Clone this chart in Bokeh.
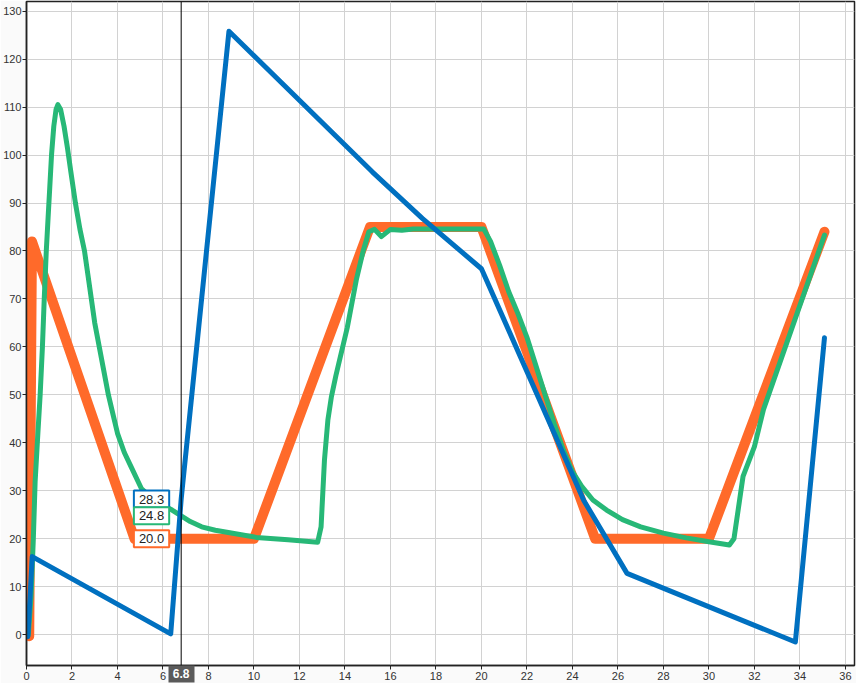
from bokeh.plotting import figure
from bokeh.models import Range1d, FixedTicker, Span, Label, LinearAxis
from bokeh.embed import file_html
from bokeh.resources import INLINE

# ---- data ----
setpoint_x = [0.12, 0.24, 4.75, 10.0, 15.1, 20.0, 25.0, 30.0, 35.08]
setpoint_y = [-0.3, 82.0, 20.0, 20.0, 85.0, 85.0, 20.0, 20.0, 84.0]

process_x = [0.08, 0.2, 0.3, 0.38, 0.5, 0.6, 0.7, 0.78, 0.87, 0.95, 1.02, 1.1, 1.2, 1.3,
             1.38, 1.5, 1.65, 1.8, 1.95, 2.15, 2.35, 2.55, 2.7, 2.85, 3.0, 3.2, 3.4, 3.6,
             3.8, 4.0, 4.3, 4.6, 5.05, 5.5, 6.0, 6.4, 6.8, 7.2, 7.7, 8.3, 9.0, 10.1,
             11.5, 12.8, 12.95, 13.1, 13.25, 13.4, 13.6, 13.8, 14.1, 14.5, 14.8, 15.05,
             15.3, 15.6, 16.0, 16.5, 17.0, 20.1, 20.4, 20.8, 21.2, 21.6, 22.0, 22.4,
             22.8, 23.2, 23.6, 24.0, 24.4, 24.9, 25.5, 26.2, 27.0, 28.0, 29.0, 30.0,
             30.9, 31.1, 31.5, 32.0, 32.4, 35.08]
process_y = [0.0, 8.0, 20.0, 32.0, 42.0, 50.0, 60.0, 70.0, 80.0, 87.0, 93.0, 100.0, 106.0,
             109.5, 110.5, 109.5, 106.0, 101.5, 96.5, 90.0, 84.5, 80.0, 75.0, 70.0, 65.0,
             60.0, 55.0, 50.0, 46.0, 42.0, 38.0, 35.0, 30.5, 28.5, 27.0, 26.0, 24.8, 23.6,
             22.5, 21.8, 21.2, 20.3, 19.8, 19.3, 22.5, 36.5, 44.8, 49.5, 54.0, 58.0, 64.0,
             74.0, 80.0, 84.0, 84.5, 83.0, 84.5, 84.3, 84.6, 84.6, 82.0, 77.0, 71.5, 67.0,
             62.0, 56.0, 50.0, 44.0, 38.5, 34.0, 31.0, 28.1, 26.0, 24.0, 22.5, 21.2, 20.2,
             19.4, 18.7, 20.0, 33.0, 39.2, 47.0, 83.3]

output_x = [0.06, 0.25, 6.34, 6.8, 8.9, 15.2, 17.4, 20.0, 22.5, 24.5, 26.4, 33.8, 35.08]
output_y = [-0.4, 16.3, 0.2, 28.3, 125.8, 96.5, 86.8, 76.3, 49.5, 28.0, 12.8, -1.5, 61.9]

x_ticks = list(range(0, 37, 2))
y_ticks = list(range(0, 131, 10))

cursor_x = 6.8
cursor_values = [28.3, 24.8, 20.0]
cursor_texts = ["28.3", "24.8", "20.0"]

ORANGE = "#FF6A2A"
GREEN = "#27B877"
BLUE = "#0070C0"

p = figure(width=856, height=683, output_backend="svg", toolbar_location=None,
           x_range=Range1d(0, 36.4), y_range=Range1d(-6.4, 132.0),
           min_border_left=25, min_border_right=2, min_border_top=1, min_border_bottom=18)

p.background_fill_color = "white"
p.border_fill_color = "#fafafa"
p.outline_line_color = "#222222"
p.outline_line_width = 1.5

for ax in (p.xaxis[0], p.yaxis[0]):
    ax.axis_line_color = "#222222"
    ax.axis_line_width = 1.5
    ax.major_tick_line_color = "#222222"
    ax.major_tick_out = 4
    ax.major_tick_in = 0
    ax.minor_tick_line_color = None
    ax.major_label_text_font = "Liberation Sans"
    ax.major_label_text_font_size = "11px"
    ax.major_label_text_color = "#333333"
    ax.major_label_standoff = 2
p.yaxis[0].major_label_standoff = 1

p.xaxis.ticker = FixedTicker(ticks=x_ticks)
p.yaxis.ticker = FixedTicker(ticks=y_ticks)

p.xgrid.ticker = FixedTicker(ticks=x_ticks)
p.ygrid.ticker = FixedTicker(ticks=y_ticks)
p.grid.grid_line_color = "#d2d2d2"
p.grid.grid_line_width = 1

# cursor marker on the x axis: dark tab drawn by a second (zero-height) axis
cursor_axis = LinearAxis(ticker=FixedTicker(ticks=[cursor_x]),
                         axis_line_color=None,
                         major_tick_line_color="#5a5a5a", major_tick_line_width=26,
                         major_tick_in=17, major_tick_out=0,
                         minor_tick_line_color=None,
                         major_label_text_font="Liberation Sans",
                         major_label_text_font_size="12px",
                         major_label_text_font_style="bold",
                         major_label_text_color="white",
                         major_label_standoff=-14)
p.add_layout(cursor_axis, "below")

p.line(setpoint_x, setpoint_y, line_color=ORANGE, line_width=10,
       line_join="round", line_cap="round")
p.line(process_x, process_y, line_color=GREEN, line_width=5,
       line_join="round", line_cap="round")
p.line(output_x, output_y, line_color=BLUE, line_width=5,
       line_join="round", line_cap="round")

p.add_layout(Span(location=cursor_x, dimension="height", line_color="black", line_width=1))

for val, txt, col in zip(cursor_values, cursor_texts, [BLUE, GREEN, ORANGE]):
    p.add_layout(Label(x=cursor_x, y=val, text=txt, x_offset=-12,
                       text_align="right", text_baseline="middle",
                       text_font="Liberation Sans", text_font_size="13px",
                       text_color="#222222",
                       background_fill_color="white", border_line_color=col,
                       border_line_width=2, padding=(5, 4)))

open("out.html", "w").write(file_html(p, INLINE))
